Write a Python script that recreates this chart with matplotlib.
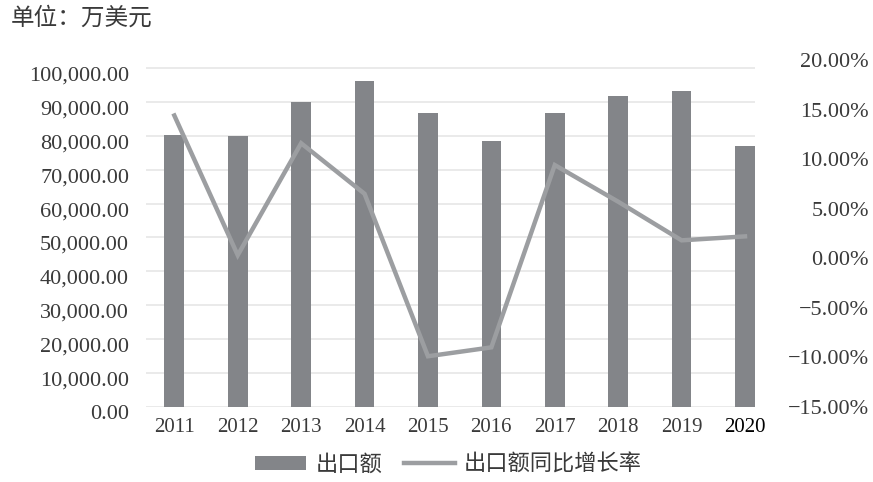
import matplotlib
matplotlib.use("Agg")
import matplotlib.pyplot as plt
from matplotlib.ticker import FuncFormatter, MultipleLocator
from matplotlib.transforms import ScaledTranslation

plt.rcParams['font.family'] = ['Liberation Serif', 'Noto Sans CJK SC', 'DejaVu Sans']
plt.rcParams['axes.unicode_minus'] = False

# data
years = ['2011', '2012', '2013', '2014', '2015', '2016', '2017', '2018', '2019', '2020']
export_value = [80100, 80000, 90000, 96200, 86600, 78500, 86600, 91700, 93300, 77100]
growth_rate = [14.4, 0.3, 11.6, 6.5, -9.9, -9.0, 9.4, 5.7, 1.8, 2.2]

bar_color = '#838589'
line_color = '#9c9ea1'
text_color = '#3a3a3a'

fig = plt.figure(figsize=(8.73, 4.82), dpi=100)
ax = fig.add_axes([0.167, 0.156, 0.698, 0.7195])
x = list(range(len(years)))

ax.bar(x, export_value, width=0.31, color=bar_color, zorder=2, label='出口额')
ax.set_xlim(-0.45, 9.16)
ax.set_ylim(0, 102360)
ax.yaxis.set_major_locator(MultipleLocator(10000))
ax.yaxis.set_major_formatter(FuncFormatter(lambda v, p: f'{v:,.2f}'))
ax.grid(axis='y', color='#e6e6e6', linewidth=1.2, zorder=0)
ax.set_axisbelow(True)
for s in ax.spines.values():
    s.set_visible(False)
ax.tick_params(axis='y', length=0, pad=12, labelsize=16, labelcolor=text_color)
# left labels sit a little below their gridlines in the original
shift = ScaledTranslation(0, -4 / 72, fig.dpi_scale_trans)
for lbl in ax.get_yticklabels():
    lbl.set_transform(lbl.get_transform() + shift)
ax.set_xticks(x)
ax.set_xticklabels(years)
ax.tick_params(axis='x', length=0, pad=8, labelsize=15, labelcolor=text_color)
ax.get_xticklabels()[-1].set_color('black')

ax2 = ax.twinx()
ax2.plot(x, growth_rate, color=line_color, linewidth=3.2, zorder=3,
         label='出口额同比增长率', solid_joinstyle='miter')
ax2.set_ylim(-15, 20)
ax2.yaxis.set_major_locator(MultipleLocator(5))
ax2.yaxis.set_major_formatter(FuncFormatter(lambda v, p: f'{v:.2f}%'.replace('-', '−')))
for s in ax2.spines.values():
    s.set_visible(False)
ax2.tick_params(axis='y', length=0, pad=82, labelsize=16, labelcolor=text_color)
for lbl in ax2.get_yticklabels():
    lbl.set_horizontalalignment('right')

fig.text(0.012, 0.962, '单位：万美元', fontsize=17, color=text_color, va='center')

h1, l1 = ax.get_legend_handles_labels()
h2, l2 = ax2.get_legend_handles_labels()
fig.legend(h1 + h2, l1 + l2, loc='center', bbox_to_anchor=(0.514, 0.035), ncol=2,
           frameon=False, fontsize=16, handlelength=2.3, handleheight=0.55,
           columnspacing=1.0, handletextpad=0.4, labelcolor=text_color)

fig.savefig('out.png', dpi=100)
